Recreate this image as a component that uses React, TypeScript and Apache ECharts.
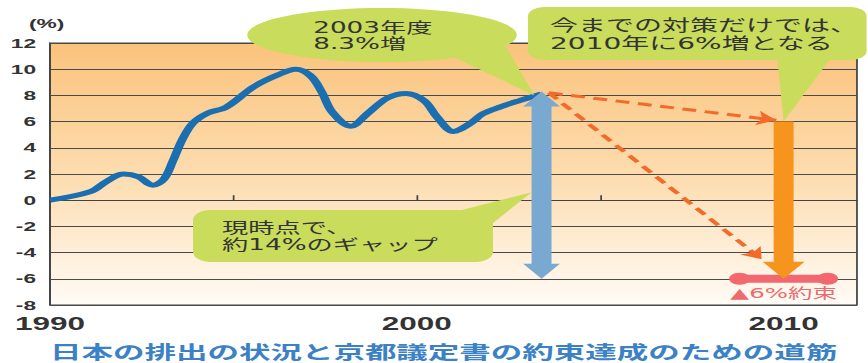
import { useEffect, useRef } from "react";
import * as echarts from "echarts";

// The reference picture is a horizontally stretched figure: draw at a narrower
// width and stretch the whole chart horizontally by the same factor.
const STRETCH = 1.75;
const CANVAS_W = 496;
const CANVAS_H = 363;

// ---- data ----
const emissionYears = [
  1990, 1991.1, 1991.55, 1992, 1992.4, 1992.8, 1993.1, 1993.35, 1993.6, 1993.9,
  1994.3, 1994.8, 1995.55, 1996.2, 1996.7, 1997.1, 1997.4, 1997.7, 1998.2, 1998.65,
  1999.2, 1999.7, 2000.2, 2000.55, 2001.0, 2001.45, 2001.8, 2002.3, 2002.8, 2003.4,
];
const emissionChange = [
  0, 0.65, 1.45, 2.0, 1.8, 1.15, 1.6, 3.0, 4.6, 5.9,
  6.65, 7.1, 8.65, 9.55, 10.0, 9.5, 8.3, 6.7, 5.65, 6.6,
  7.8, 8.15, 7.6, 6.35, 5.25, 5.85, 6.6, 7.15, 7.6, 8.1,
];
const gapArrow = [[2003.4, 8.3, -6]];
const bauArrow = [[2010, 6, -6]];
const trendStart = [2003.6, 8.2];
const trendEnds = [
  [2009.8, 6.1],
  [2009.4, -4.5],
];
const pledgeRange = [
  [2008.8, -6],
  [2011.2, -6],
];
const xLabelYears = [1990, 2000, 2010];
const titleText = "日本の排出の状況と京都議定書の約束達成のための道筋";
const calloutNow = ["2003年度", "8.3%増"];
const calloutBau = ["今までの対策だけでは、", "2010年に6%増となる"];
const calloutGap = ["現時点で、", "約14%のギャップ"];
const pledgeLabel = "▲6%約束";

const CJK = "'DejaVu Sans', 'Noto Sans CJK JP', sans-serif";
const LATIN = "Arial, 'Liberation Sans', sans-serif";
const GREEN = "#c9dc5b";

function arrowRenderer(color: string, shaft: number, head: number, headLen: number, both: boolean) {
  return (_params: any, api: any) => {
    const x = api.value(0);
    const a = api.coord([x, api.value(1)]);
    const b = api.coord([x, api.value(2)]);
    const cx = a[0];
    const t = a[1];
    const bt = b[1];
    const hw = shaft / 2;
    const hh = head / 2;
    const pts = both
      ? [
          [cx, t],
          [cx + hh, t + headLen],
          [cx + hw, t + headLen],
          [cx + hw, bt - headLen],
          [cx + hh, bt - headLen],
          [cx, bt],
          [cx - hh, bt - headLen],
          [cx - hw, bt - headLen],
          [cx - hw, t + headLen],
          [cx - hh, t + headLen],
        ]
      : [
          [cx - hw, t],
          [cx + hw, t],
          [cx + hw, bt - headLen],
          [cx + hh, bt - headLen],
          [cx, bt],
          [cx - hh, bt - headLen],
          [cx - hw, bt - headLen],
        ];
    return { type: "polygon", shape: { points: pts }, style: { fill: color } };
  };
}

export default function App() {
  const ref = useRef<HTMLDivElement>(null);

  useEffect(() => {
    if (!ref.current) return;
    const chart = echarts.init(ref.current, null, { renderer: "svg" });

    const option: any = {
      animation: false,
      title: {
        text: titleText,
        left: 28.6,
        top: 341,
        padding: 0,
        textStyle: {
          fontSize: 18,
          lineHeight: 20,
          fontWeight: "bold",
          color: "#3b81c5",
          fontFamily: "'Noto Sans CJK JP', sans-serif",
        },
      },
      grid: {
        left: 28.6,
        right: 6.3,
        top: 43,
        bottom: 58,
        show: true,
        borderColor: "#444",
        borderWidth: 1,
        backgroundColor: new echarts.graphic.LinearGradient(0, 0, 0, 1, [
          { offset: 0, color: "#fac37c" },
          { offset: 0.5, color: "#fddcae" },
          { offset: 1, color: "#fffbf6" },
        ]),
      },
      xAxis: {
        type: "value",
        min: 1990,
        max: 2012,
        interval: 5,
        axisLine: { lineStyle: { color: "#444", width: 1 } },
        axisTick: { inside: true, length: 5, lineStyle: { color: "#444" } },
        splitLine: { show: false },
        axisLabel: {
          showMaxLabel: false,
          margin: 10,
          fontSize: 18,
          fontWeight: "bold",
          color: "#333",
          fontFamily: LATIN,
          formatter: (v: number) => (xLabelYears.includes(v) ? String(v) : ""),
        },
      },
      yAxis: {
        type: "value",
        min: -8,
        max: 12,
        interval: 2,
        name: "(%)",
        nameLocation: "end",
        nameGap: 20,
        nameTextStyle: {
          fontSize: 13,
          fontWeight: "bold",
          color: "#333",
          fontFamily: LATIN,
          align: "center",
          verticalAlign: "middle",
          padding: [0, 4, 0, 0],
        },
        axisLine: { show: true, lineStyle: { color: "#444", width: 1 } },
        axisTick: { show: false },
        splitLine: { lineStyle: { color: "#4a4a4a", width: 1 } },
        axisLabel: {
          margin: 8,
          fontSize: 13,
          fontWeight: "bold",
          color: "#333",
          fontFamily: LATIN,
        },
      },
      series: [
        {
          type: "line",
          data: emissionYears.map((y, i) => [y, emissionChange[i]]),
          smooth: 0.35,
          symbol: "none",
          lineStyle: { color: "#1b6fb0", width: 5 },
          z: 3,
        },
        {
          type: "line",
          data: pledgeRange,
          symbol: "circle",
          symbolSize: 12,
          lineStyle: { color: "#f2686e", width: 8 },
          itemStyle: { color: "#f2686e" },
          z: 3,
        },
        {
          type: "custom",
          renderItem: arrowRenderer("#f7941d", 11.4, 24, 17, false),
          data: bauArrow,
          encode: { x: 0, y: [1, 2] },
          z: 4,
        },
        {
          type: "custom",
          renderItem: arrowRenderer("#79a9d1", 11.4, 21, 15, true),
          data: gapArrow,
          encode: { x: 0, y: [1, 2] },
          z: 4,
        },
        {
          type: "lines",
          coordinateSystem: "cartesian2d",
          data: trendEnds.map((e) => ({ coords: [trendStart, e] })),
          symbol: ["none", "arrow"],
          symbolSize: 11,
          lineStyle: { color: "#f26b2a", width: 3, type: [8, 5], opacity: 1 },
          z: 5,
        },
      ],
    };
    chart.setOption(option);

    const p = (x: number, y: number) => chart.convertToPixel({ gridIndex: 0 }, [x, y]) as number[];
    const tipNow = p(2003.2, 8.0);
    const tipBau = p(bauArrow[0][0], bauArrow[0][1]);
    const gapPt = p(gapArrow[0][0], 0.6);
    const pledgePt = p(2010, -6);

    const txt = (text: string, x: number, y: number, size: number, fill = "#333", align = "left") => ({
      type: "text",
      x,
      y,
      z: 110,
      style: { text, fontSize: size, fontFamily: CJK, fill, align, verticalAlign: "middle" },
    });

    chart.setOption({
      graphic: {
        elements: [
          // callout: 2003
          { type: "polygon", z: 100, shape: { points: [[258, 56], [289, 46], tipNow] }, style: { fill: GREEN } },
          { type: "ellipse", z: 100, shape: { cx: 218.3, cy: 35, rx: 77, ry: 27 }, style: { fill: GREEN } },
          txt(calloutNow[0], 179, 28, 15),
          txt(calloutNow[1], 179, 44, 15),
          // callout: BAU 2010
          { type: "polygon", z: 100, shape: { points: [[444, 55], [476, 55], tipBau] }, style: { fill: GREEN } },
          { type: "rect", z: 100, shape: { x: 301.7, y: 7, width: 193.5, height: 53, r: 9 }, style: { fill: GREEN } },
          txt(calloutBau[0], 314.3, 25.5, 16),
          txt(calloutBau[1], 314.3, 43.5, 16),
          // callout: gap
          {
            type: "polygon",
            z: 100,
            shape: { points: [[255, 214], [281, 224], [gapPt[0] - 5.7, gapPt[1]]] },
            style: { fill: GREEN },
          },
          { type: "rect", z: 100, shape: { x: 110.3, y: 210, width: 171.4, height: 52, r: 10 }, style: { fill: GREEN } },
          txt(calloutGap[0], 126.9, 227.5, 15),
          txt(calloutGap[1], 126.9, 245, 15),
          // pledge label
          txt(pledgeLabel, pledgePt[0], pledgePt[1] + 14.5, 14, "#ef6a6e", "center"),
        ],
      },
    });

    return () => chart.dispose();
  }, []);

  return (
    <div
      ref={ref}
      style={{
        position: "absolute",
        left: 0,
        top: 0,
        width: CANVAS_W,
        height: CANVAS_H,
        transform: `scaleX(${STRETCH})`,
        transformOrigin: "0 0",
      }}
    />
  );
}
